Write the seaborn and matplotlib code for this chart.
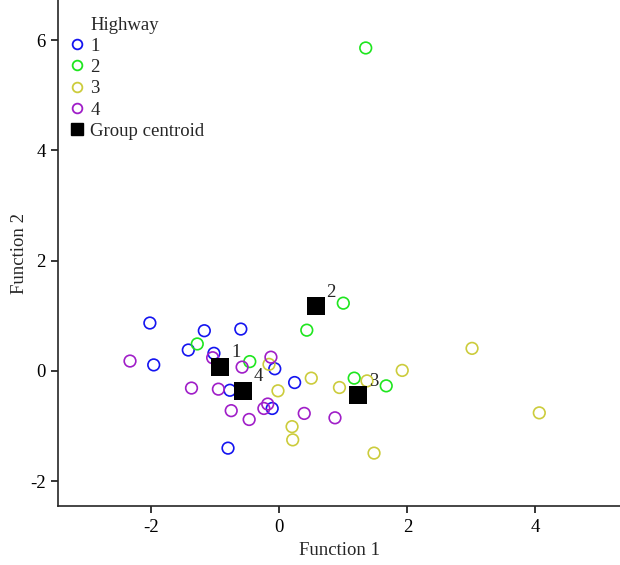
import pandas as pd
import matplotlib.pyplot as plt
import seaborn as sns
from matplotlib.lines import Line2D

# Discriminant scores
hw1_x = [-2.02, -1.96, -1.42, -1.17, -1.02, -0.60, -0.07, -0.77, 0.24, -0.11, -0.80]
hw1_y = [0.87, 0.11, 0.38, 0.73, 0.32, 0.76, 0.04, -0.35, -0.21, -0.68, -1.40]
hw2_x = [-1.28, -0.46, 0.43, 1.00, 1.17, 1.67, 1.35]
hw2_y = [0.49, 0.17, 0.74, 1.23, -0.13, -0.27, 5.86]
hw3_x = [-0.16, -0.02, 0.50, 0.20, 0.21, 0.94, 1.37, 1.92, 3.01, 4.06, 1.48]
hw3_y = [0.12, -0.36, -0.13, -1.01, -1.25, -0.30, -0.18, 0.01, 0.41, -0.76, -1.49]
hw4_x = [-2.33, -1.04, -0.58, -0.13, -1.37, -0.95, -0.75, -0.47, -0.24, -0.18, 0.39, 0.87]
hw4_y = [0.18, 0.24, 0.07, 0.25, -0.31, -0.33, -0.72, -0.88, -0.68, -0.60, -0.77, -0.85]

centroid_labels = ["1", "2", "3", "4"]
centroid_x = [-0.92, 0.57, 1.23, -0.56]
centroid_y = [0.08, 1.17, -0.44, -0.36]

groups = ["1", "2", "3", "4"]
colors = {"1": "#1414f0", "2": "#1ee61e", "3": "#cccc3c", "4": "#a01ec8"}

rows = []
for g, xs, ys in zip(groups, [hw1_x, hw2_x, hw3_x, hw4_x], [hw1_y, hw2_y, hw3_y, hw4_y]):
    for x, y in zip(xs, ys):
        rows.append({"Function 1": x, "Function 2": y, "Highway": g})
df = pd.DataFrame(rows)
cent = pd.DataFrame({"x": centroid_x, "y": centroid_y, "label": centroid_labels})

sns.set_style("ticks")
plt.rcParams["font.family"] = ["Liberation Serif", "DejaVu Serif"]
plt.rcParams["font.size"] = 13.5
plt.rcParams["axes.unicode_minus"] = False

fig = plt.figure(figsize=(6.2, 5.65), dpi=100)
ax = fig.add_axes([0.094, 0.1044, 0.906, 0.8956])

sns.scatterplot(data=df, x="Function 1", y="Function 2", hue="Highway",
                palette=colors, marker="o", s=70, linewidth=1.2, legend=False, ax=ax)
coll = ax.collections[0]
coll.set_edgecolors(coll.get_facecolors())
coll.set_facecolors("none")

sns.scatterplot(data=cent, x="x", y="y", marker="s", s=150, color="black",
                linewidth=0, legend=False, ax=ax)
for _, r in cent.iterrows():
    ax.annotate(r["label"], (r["x"], r["y"]), xytext=(11, 10), textcoords="offset points",
                ha="center", va="center", fontsize=13.5)

ax.set_xlim(-3.45, 5.32)
ax.set_ylim(-2.45, 6.73)
ax.set_xticks([-2, 0, 2, 4])
ax.set_yticks([-2, 0, 2, 4, 6])
ax.set_xlabel("Function 1", labelpad=5)
ax.set_ylabel("Function 2", labelpad=1.5)
ax.tick_params(direction="out", length=5, width=1.1, labelsize=13.5, colors="black", pad=4)
for side in ["left", "bottom"]:
    ax.spines[side].set_linewidth(1.2)
sns.despine(ax=ax)

handles = [Line2D([], [], linestyle="none", label="Highway")]
for g in groups:
    handles.append(Line2D([], [], linestyle="none", marker="o", markersize=7,
                          markerfacecolor="none", markeredgecolor=colors[g],
                          markeredgewidth=1.3, label=g))
handles.append(Line2D([], [], linestyle="none", marker="s", markersize=8,
                      color="black", label="Group centroid"))
ax.legend(handles=handles, loc="upper left", bbox_to_anchor=(0.117, 0.971),
          bbox_transform=fig.transFigure, frameon=False, handlelength=0.5,
          handletextpad=0.44, labelspacing=0.22, borderpad=0, borderaxespad=0,
          fontsize=13.5)

plt.savefig("out.png", dpi=100)
plt.close()
